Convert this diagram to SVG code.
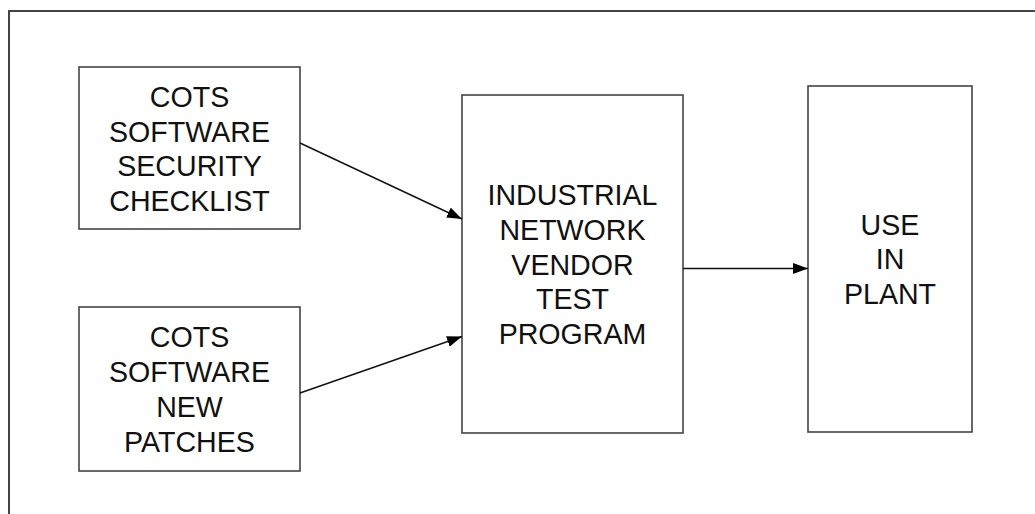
<svg xmlns="http://www.w3.org/2000/svg" width="1035" height="514" viewBox="0 0 1035 514">
<style>
.box{fill:#fff;stroke:#444;stroke-width:1.6}
.t{font-family:"Liberation Sans",Arial,sans-serif;font-size:28.6px;fill:#111;text-anchor:middle}
.c{stroke:#111;stroke-width:1.4;fill:none}
</style>
<defs>
<marker id="ah" markerWidth="15" markerHeight="11" refX="15" refY="5.5" orient="auto" markerUnits="userSpaceOnUse">
<path d="M0,0 L15,5.5 L0,11 z" fill="#000"/>
</marker>
</defs>
<rect width="1035" height="514" fill="#fff"/>
<path d="M9,514 V11 H1035" fill="none" stroke="#444" stroke-width="2"/>
<g id="n1">
<rect class="box" x="79" y="67" width="221" height="162"/>
<text class="t" x="189.5" y="107">COTS</text>
<text class="t" x="189.5" y="141.5">SOFTWARE</text>
<text class="t" x="189.5" y="176">SECURITY</text>
<text class="t" x="189.5" y="211">CHECKLIST</text>
</g>
<g id="n2">
<rect class="box" x="79" y="307" width="221" height="164"/>
<text class="t" x="189.5" y="347">COTS</text>
<text class="t" x="189.5" y="382">SOFTWARE</text>
<text class="t" x="189.5" y="417">NEW</text>
<text class="t" x="189.5" y="452">PATCHES</text>
</g>
<g id="n3">
<rect class="box" x="462" y="95" width="221" height="338"/>
<text class="t" x="572.5" y="204.5">INDUSTRIAL</text>
<text class="t" x="572.5" y="239.5">NETWORK</text>
<text class="t" x="572.5" y="274.5">VENDOR</text>
<text class="t" x="572.5" y="309">TEST</text>
<text class="t" x="572.5" y="344">PROGRAM</text>
</g>
<g id="n4">
<rect class="box" x="808" y="86" width="164" height="346"/>
<text class="t" x="890" y="234.5">USE</text>
<text class="t" x="890" y="269">IN</text>
<text class="t" x="890" y="304">PLANT</text>
</g>
<g id="connectors">
<line class="c" x1="300" y1="143" x2="462" y2="219" marker-end="url(#ah)"/>
<line class="c" x1="300" y1="393" x2="462" y2="336.5" marker-end="url(#ah)"/>
<line class="c" x1="683" y1="268.5" x2="808" y2="268.5" marker-end="url(#ah)"/>
</g>
</svg>
